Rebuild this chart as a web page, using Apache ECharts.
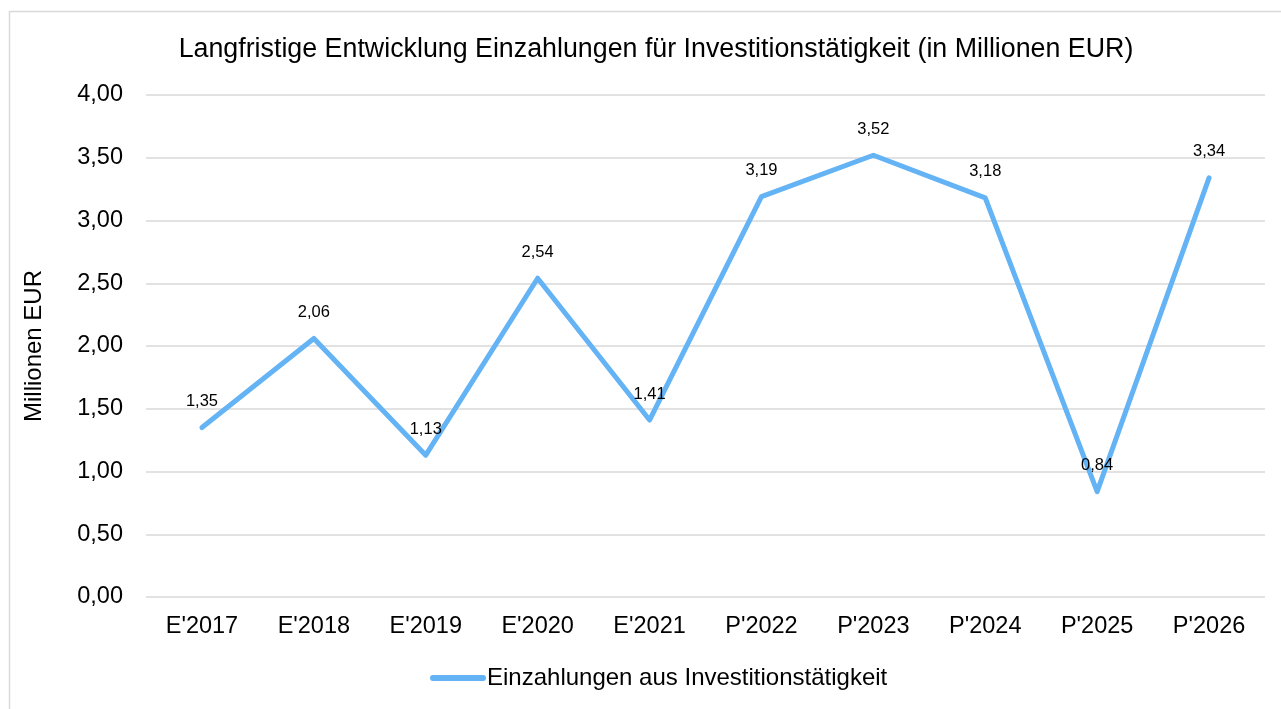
<!DOCTYPE html>
<html>
<head>
<meta charset="utf-8">
<script src="https://cdn.jsdelivr.net/npm/echarts@6/dist/echarts.min.js"></script>
<style>
  html, body { margin: 0; padding: 0; background: #fff; }
  #chart { width: 1281px; height: 709px; }
</style>
</head>
<body>
<div id="chart"></div>
<script>
// Daten
var jahre = ["E'2017", "E'2018", "E'2019", "E'2020", "E'2021", "P'2022", "P'2023", "P'2024", "P'2025", "P'2026"];
var einzahlungen = [1.35, 2.06, 1.13, 2.54, 1.41, 3.19, 3.52, 3.18, 0.84, 3.34];
var serienName = 'Einzahlungen aus Investitionstätigkeit';

var fmt = function (v) { return v.toFixed(2).replace('.', ','); };
var schrift = '"Liberation Sans", Arial, sans-serif';

var chart = echarts.init(document.getElementById('chart'));
chart.setOption({
    animation: false,
    textStyle: { fontFamily: schrift },
    graphic: [{
        type: 'rect',
        shape: { x: 9.5, y: 11.5, width: 1300, height: 720 },
        style: { fill: 'none', stroke: '#d9d9d9', lineWidth: 1.5 },
        silent: true
    }],
    title: {
        text: 'Langfristige Entwicklung Einzahlungen für Investitionstätigkeit (in Millionen EUR)',
        left: 651, top: 31, textAlign: 'center',
        textStyle: { fontSize: 26.8, fontWeight: 'normal', color: '#000', fontFamily: schrift }
    },
    legend: {
        top: 661, left: 425,
        itemWidth: 56, itemHeight: 6, itemGap: 4,
        textStyle: { fontSize: 24, color: '#000', fontFamily: schrift, padding: [0, 0, 0, -4] },
        data: [{ name: serienName, icon: 'path://M3,0 H53 A3,3 0 0 1 53,6 H3 A3,3 0 0 1 3,0 Z' }]
    },
    grid: { left: 146, right: 16, top: 95, bottom: 112 },
    xAxis: {
        type: 'category',
        data: jahre,
        boundaryGap: true,
        axisLine: { show: false },
        axisTick: { show: false },
        axisLabel: { fontSize: 23.5, color: '#000', margin: 18, fontFamily: schrift }
    },
    yAxis: {
        type: 'value',
        min: 0, max: 4, interval: 0.5,
        name: 'Millionen EUR',
        nameLocation: 'middle',
        nameGap: 100,
        nameTextStyle: { fontSize: 24, color: '#000', fontFamily: schrift },
        axisLabel: { fontSize: 23.5, color: '#000', margin: 23, formatter: fmt, fontFamily: schrift },
        splitLine: { lineStyle: { color: '#d9d9d9', width: 1.5 } }
    },
    series: [{
        name: serienName,
        type: 'line',
        data: einzahlungen,
        symbol: 'circle',
        symbolSize: 1,
        showSymbol: true,
        lineStyle: { color: '#63b3f5', width: 5, join: 'round', cap: 'round' },
        itemStyle: { color: '#63b3f5' },
        label: {
            show: true, position: 'top', distance: 17,
            fontSize: 16.5, color: '#000', fontFamily: schrift,
            formatter: function (p) { return fmt(p.value); }
        }
    }]
});
</script>
</body>
</html>
